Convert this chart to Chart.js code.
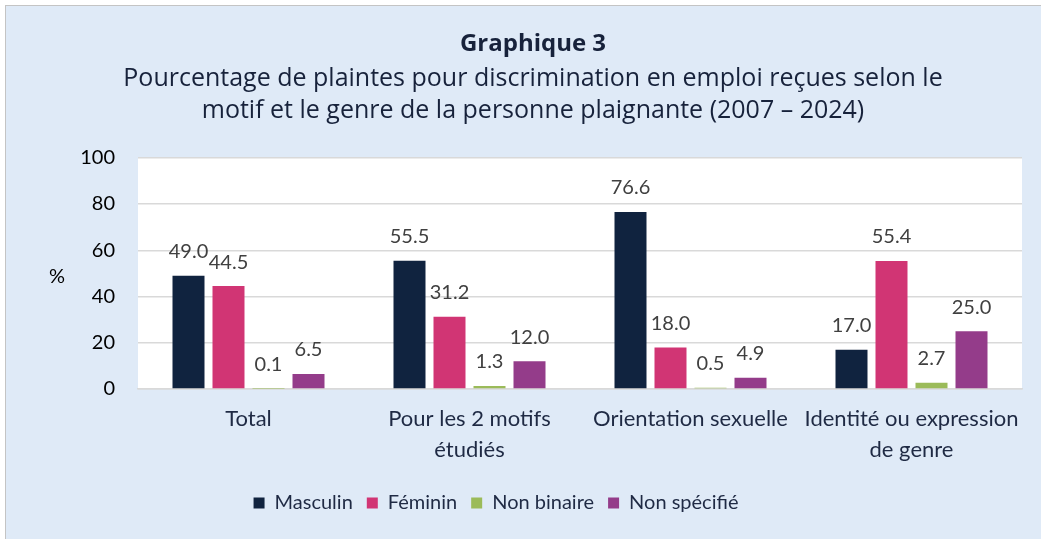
<!DOCTYPE html>
<html lang="fr">
<head>
<meta charset="utf-8">
<title>Graphique 3</title>
<script src="https://cdn.jsdelivr.net/npm/chart.js@4.4.1/dist/chart.umd.min.js"></script>
<style>
  html, body { margin: 0; padding: 0; background: #ffffff; }
  #frame {
    position: absolute; left: 5px; top: 5px;
    width: 1035px; height: 533px;
    border-top: 1px solid #c4c4c4; border-left: 1px solid #c4c4c4;
    background: #dfeaf7;
  }
  canvas { display: block; }
</style>
</head>
<body>
<div id="frame"><canvas id="chart" width="1035" height="533"></canvas></div>
<script>
// Données
const categories = [
  ['Total'],
  ['Pour les 2 motifs', 'étudiés'],
  ['Orientation sexuelle'],
  ['Identité ou expression', 'de genre']
];
const masculin = [49.0, 55.5, 76.6, 17.0];
const feminin = [44.5, 31.2, 18.0, 55.4];
const nonBinaire = [0.1, 1.3, 0.5, 2.7];
const nonSpecifie = [6.5, 12.0, 4.9, 25.0];
const yTicks = [0, 20, 40, 60, 80, 100];

const TEXT_DARK = '#1f2a44';

// fond blanc de la zone de tracé
const plotBackground = {
  id: 'plotBackground',
  beforeDraw(chart) {
    const { ctx, chartArea: a } = chart;
    ctx.save();
    ctx.fillStyle = '#ffffff';
    ctx.fillRect(a.left, a.top, a.right - a.left, a.bottom - a.top);
    ctx.restore();
  }
};

// dans l'original, le titre est un peu à droite et la légende un peu à gauche
const boxShift = {
  id: 'boxShift',
  afterLayout(chart) {
    chart.boxes.forEach((box) => {
      let dx = 0;
      if (box === chart.legend) dx = -18;
      else if (box.options && box.options.text !== undefined && box.position === 'top') dx = 19;
      box.left += dx;
      box.right += dx;
    });
  }
};

// étiquettes de valeurs au-dessus des barres + « % »
const valueLabels = {
  id: 'valueLabels',
  afterDatasetsDraw(chart) {
    const { ctx } = chart;
    ctx.save();
    ctx.font = '20px Lato';
    ctx.fillStyle = '#404040';
    ctx.textAlign = 'center';
    ctx.textBaseline = 'middle';
    chart.data.datasets.forEach((ds, i) => {
      chart.getDatasetMeta(i).data.forEach((bar, j) => {
        ctx.fillText(ds.data[j].toFixed(1), bar.x, bar.y - 24);
      });
    });
    const a = chart.chartArea;
    ctx.fillStyle = '#000000';
    ctx.fillText('%', a.left - 81, (a.top + a.bottom) / 2 + 3);
    ctx.restore();
  }
};

new Chart(document.getElementById('chart'), {
  type: 'bar',
  data: {
    labels: categories,
    datasets: [
      { label: 'Masculin', data: masculin, backgroundColor: '#10233f' },
      { label: 'Féminin', data: feminin, backgroundColor: '#d13574' },
      { label: 'Non binaire', data: nonBinaire, backgroundColor: '#9bbb59' },
      { label: 'Non spécifié', data: nonSpecifie, backgroundColor: '#943c8a' }
    ]
  },
  options: {
    responsive: false,
    animation: false,
    devicePixelRatio: 1,
    datasets: { bar: { categoryPercentage: 0.724, barPercentage: 0.8 } },
    layout: { padding: { left: 0, right: 19, top: 0, bottom: 16 } },
    plugins: {
      title: {
        display: true,
        text: 'Graphique 3',
        color: '#17223b',
        font: { family: 'Open Sans', size: 24, weight: 'bold', lineHeight: 1.2 },
        padding: { top: 24, bottom: 2 }
      },
      subtitle: {
        display: true,
        text: [
          'Pourcentage de plaintes pour discrimination en emploi reçues selon le',
          'motif et le genre de la personne plaignante (2007 – 2024)'
        ],
        color: '#17223b',
        font: { family: 'Open Sans', size: 25, lineHeight: 32 / 25 },
        padding: { top: 2, bottom: 31 }
      },
      legend: {
        position: 'bottom',
        labels: {
          color: TEXT_DARK,
          font: { family: 'Lato', size: 20 },
          boxWidth: 11,
          boxHeight: 11,
          padding: 14
        }
      },
      tooltip: { enabled: false }
    },
    scales: {
      x: {
        grid: { display: false, drawTicks: false },
        border: { display: true, color: '#d9d9d9', width: 1.5 },
        ticks: {
          color: TEXT_DARK,
          font: { family: 'Lato', size: 22, lineHeight: 31 / 22 },
          padding: 14,
          maxRotation: 0,
          autoSkip: false
        },
        afterFit(scale) { scale.height = 90; }
      },
      y: {
        min: 0,
        max: 100,
        afterBuildTicks(scale) { scale.ticks = yTicks.map((v) => ({ value: v })); },
        grid: { color: '#d9d9d9', lineWidth: 1.5, drawTicks: false },
        border: { display: false },
        ticks: {
          color: '#000000',
          font: { family: 'Lato', size: 20 },
          padding: 23
        },
        afterFit(scale) { scale.width = 132; }
      }
    }
  },
  plugins: [plotBackground, boxShift, valueLabels]
});
</script>
</body>
</html>
